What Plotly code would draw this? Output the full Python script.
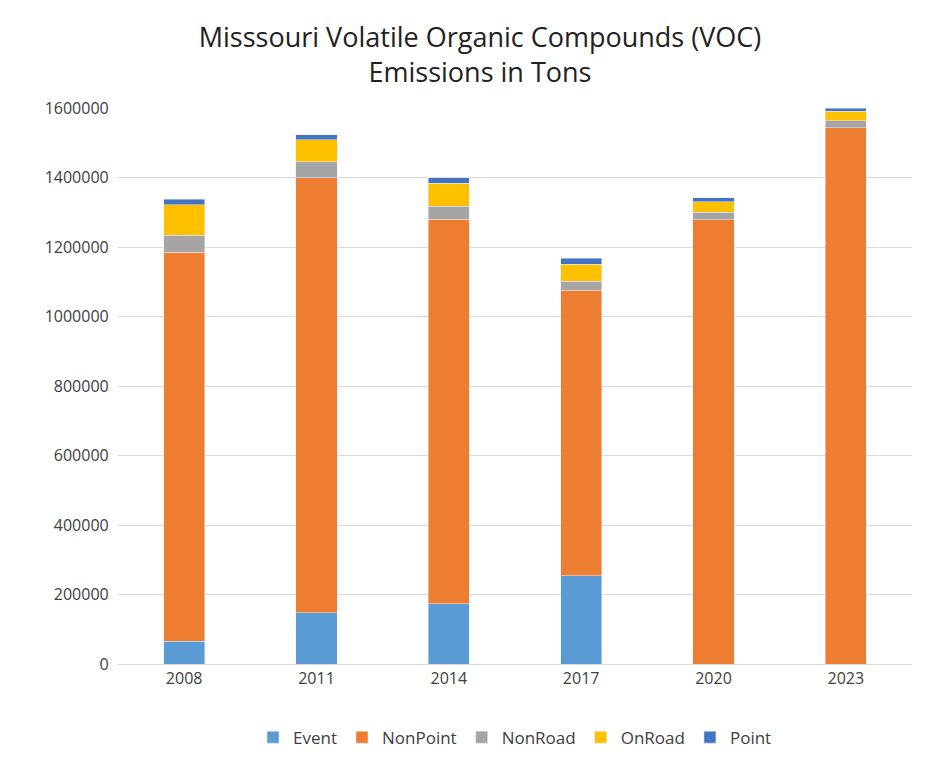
import plotly.graph_objects as go

years = ["2008", "2011", "2014", "2017", "2020", "2023"]
event = [65000, 147000, 173000, 254000, 0, 0]
nonpoint = [1120000, 1252000, 1107000, 821000, 1278000, 1543000]
nonroad = [49000, 46000, 38000, 26000, 22000, 20000]
onroad = [87000, 64000, 66000, 49000, 30000, 27000]
point = [17000, 14000, 15000, 18000, 12000, 10000]

series = [
    ("Event", event, "#5B9BD5"),
    ("NonPoint", nonpoint, "#ED7D31"),
    ("NonRoad", nonroad, "#A5A5A5"),
    ("OnRoad", onroad, "#FFC000"),
    ("Point", point, "#4472C4"),
]

fig = go.Figure()
for name, vals, color in series:
    fig.add_trace(go.Bar(x=years, y=vals, name=name, marker_color=color))

fig.update_layout(
    barmode="stack",
    bargap=0.69,
    width=944, height=780,
    paper_bgcolor="white", plot_bgcolor="white",
    font=dict(family="Open Sans, Liberation Sans", size=16, color="#404040"),
    title=dict(text="Misssouri Volatile Organic Compounds (VOC)<br>Emissions in Tons",
               x=0.5, xanchor="center", y=0.95, font=dict(size=27, color="#222")),
    margin=dict(l=110, r=40, t=100, b=124),
    yaxis=dict(range=[0, 1600000], dtick=200000, tickformat="d",
               gridcolor="#D9D9D9", zeroline=False, ticksuffix="  "),
    xaxis=dict(showline=True, linecolor="#D9D9D9", ticks=""),
    legend=dict(orientation="h", traceorder="normal", x=0.5, xanchor="center",
                y=-0.1, yanchor="top", font=dict(size=17)),
)

fig.write_html("out.html")
